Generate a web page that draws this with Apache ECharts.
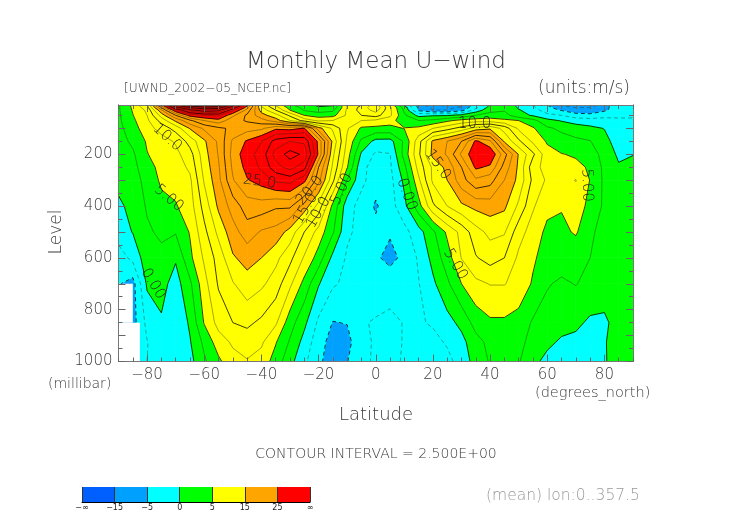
<!DOCTYPE html>
<html><head><meta charset="utf-8">
<style>html,body{margin:0;padding:0;background:#fff}#c{width:752px;height:532px}</style>
<script src="https://cdn.jsdelivr.net/npm/echarts@6/dist/echarts.min.js"></script>
</head><body><div id="c"></div>
<script>
// latitude of every column, -90..90 by 5
const lats=[-90,-85,-80,-75,-70,-65,-60,-55,-50,-45,-40,-35,-30,-25,-20,-15,-10,-5,0,5,10,15,20,25,30,35,40,45,50,55,60,65,70,75,80,85,90];
const levels=[10,20,30,50,70,100,150,200,250,300,400,500,600,700,850,925,1000];
// zonal wind (m/s), one array per pressure level
const u10=[2.2,5.6,10,24,40,48,52,50,38,26,12,7,2.8,1.5,-.8,-.3,8,10,14,7,-1,-6,-10,-11,-8.5,-4,.1,1.5,-.6,-2.5,-5,-8,-10,-10,-5.5,-4,-3.6];
const u20=[2.2,5.4,9,20,33,40,43,42,32,23.5,13,8.5,4,1.8,.5,.8,7.5,11,14.5,8,1.5,-5.5,-8,-8,-7,-3,1,2,-.3,-2,-4.5,-6,-7.5,-7.5,-5.5,-4,-3.5];
const u30=[2.2,5.2,8,17,27,34,37,36,28,21.5,14,10,5,2.3,1.5,2,8,11,13.5,8,2,-5.5,-7.5,-7.5,-6,-1.5,1.7,2.3,.2,-1.2,-4,-5.2,-6.5,-6.8,-5.5,-3.6,-3.3];
const u50=[2.1,4.9,7.5,13.5,20,26,27.5,28,23,19.5,16,13.5,9.5,5,3.8,4.2,8,10,11,8,3,-.8,-.3,-.2,.8,2.5,3.5,3.4,1,-.3,-1.7,-2.5,-4,-4.2,-3,-3,-3];
const u70=[2,4.5,7,11,15.5,19.5,22.5,24,21,19.7,18.5,16.2,12.5,9,7,7.5,8.5,7.5,7,6,3.5,2.5,3,4.5,5.8,6.3,6.3,5.5,5,3.3,.7,-.2,-.9,-1.4,-1.9,-2,-2];
const u100=[1.8,3.9,6.5,8.5,11,15.2,18,19.5,20.5,21.5,22,24.5,24,25.2,16,12,7.8,4.6,4.3,4.3,5.1,5.6,7.5,9,11,13.5,14.5,11.5,7,5.3,2.9,2,1,.6,-.1,-1.7,-1.7];
const u150=[1.5,3,5.3,6.4,7.8,11,14.6,18,23,25.3,27.4,31,32.5,32,24.2,14.3,7,2,-.8,-.9,3,9,15.5,17.5,20,25.5,23,14.6,10.5,7,4.7,3.5,3.1,2.6,.9,-1.3,-1.2];
const u200=[1.2,2.1,4.9,6,6.8,9,14,17.7,23.5,26.5,28.5,33.5,36,34.5,24.5,13,6.2,-.4,-2.9,-2.6,3.5,9.5,15.8,17.8,23,27,27.3,21,14.8,10.5,5.9,5.1,4.7,3.6,1.7,-.5,-.1];
const u250=[.9,1.7,4.1,5.7,6.2,8,13.5,17.2,23,25.8,28,31.5,33.5,31,20,12,5.2,-2,-3.3,-2.9,1.8,8.5,13,15.8,20,25.5,24.5,19,14.5,8.5,6.5,6,5.6,4.7,1.9,.3,.9];
const u300=[.6,1.2,3.5,5.4,5.9,7,12.8,16.8,22.3,24.8,26.1,28,28.5,25.8,18.4,10.6,2.4,-1.8,-4,-3.3,.6,7,13,15,19,22,21,17.5,14.3,9.4,7.1,6.6,7.6,4.9,2,.8,.6];
const u400=[-.4,.6,2.8,4.3,4.8,6.3,11,15.5,18.6,21.3,21.4,20.4,20.5,16.5,11.5,4.3,-1.4,-3.5,-5.3,-3.6,-.7,4,9.5,12.5,14.5,15.7,16.2,15.5,12,7.8,5.7,5.2,5.9,4.5,2,1.3,1.1];
const u500=[-1.2,.1,2.1,3,2.7,5.2,9.3,13.2,16.5,18.8,17.2,16.6,14,10,6.5,2.8,-2.1,-3.2,-4.3,-4.7,-3.3,-1,2,5.5,8.3,11.5,13.2,12.8,8.5,6.4,4.4,4.4,5.3,3,1.5,1.5,1.2];
const u600=[-3.8,-1.8,1.4,1.8,.3,4.4,7.9,11,14.7,15.9,15,13.2,10.7,7.2,3.9,-.7,-2.8,-3.5,-4.6,-5.8,-4.3,-2.2,.8,3.8,7.6,9.8,11,10,7,5.4,3.8,3.6,3.2,2.5,2,1.8,1.5];
const u700=[-4.8,-6,.4,.9,-1.1,2,6.6,10.3,12.3,14,13,11.3,8,4.2,.2,-2.2,-3,-3.3,-3.7,-3.4,-3.3,-2.6,-.5,2,5,6.9,7.6,7.6,6.7,4.7,2.7,2.1,2.6,1.8,1.7,1.6,1.4];
const u850=[-5.5,-6,-1.8,-.3,-2.2,.4,5.2,8.4,10,10.5,9.5,7.9,3.6,.6,-3,-5.1,-4.9,-2.7,-2.3,-2,-2.6,-2.7,-2.3,-.9,.7,3.5,4.6,4.6,4,2.2,1.5,1,.5,-.4,-.6,1.3,1.2];
const u925=[-5,-4,-2.6,-1,-2.4,-.2,3.1,6.3,7.9,8.8,7.9,5.2,2.2,-.9,-4,-6,-5.8,-3.2,-2.2,-2,-2.6,-3,-3,-2.3,-.8,1.6,3.2,3.6,3,1.9,.6,-.4,-.6,-.7,-.2,1.2,1.3];
const u1000=[-4,-3.5,-2.5,-.6,-1.8,-.8,2.1,4.5,6.6,7.3,6.5,3.9,.8,-2,-4.5,-6.3,-5.1,-3,-2.2,-2,-2.7,-3.2,-3.2,-3,-1.8,1.2,2.7,3.3,2.7,.7,-.8,-1,-1.2,-1,-.2,1,1.5];
const windRows=[u10,u20,u30,u50,u70,u100,u150,u200,u250,u300,u400,u500,u600,u700,u850,u925,u1000];
// filled colour bands
const bandEdges=[-1e9,-15,-5,0,5,15,25,1e9];
const bandColors=['#0060ff','#00a0ff','#00ffff','#00ff00','#ffff00','#ffa500','#ff0000'];
const barLabels=['−∞','−15','−5','0','5','15','25','∞'];
// contour lines every 2.5
const contourLevels=[-12.5,-10,-7.5,-5,-2.5,0,2.5,5,7.5,10,12.5,15,17.5,20,22.5,25,27.5,30,32.5,35,37.5,40,42.5,45,47.5,50];
// no-data boxes: lat from, lat to, level from, level to
const missingBoxes=[[-90,-85,700,850],[-90,-82.5,850,1000]];
// contour labels: text, latitude, level, rotation in degrees
const lineLabels=[['10.0',-72.9,136,-42],['5.00',-72.4,370,-40],['25.0',-40.6,306,-8],['20.0',-23,340,50],['15.0',-24.5,410,60],['10.0',-20,425,60],['5.00',-11.9,335,65],['0.00',-77.9,700,-58],['10.0',34.6,85,0],['15.0',21.7,240,-55],['0.00',10.8,355,-70],['5.00',73.9,320,-88],['5.00',27.8,625,-60]];
const latTicks=[-80,-60,-40,-20,0,20,40,60,80];
const latMinorTicks=lats;
const levelTicks=[200,400,600,800,1000];
const levelMajorTicks=[100,200,300,400,500,600,700,800,900,1000];
const levelMinorTicks=[50,150,250,350,450,550,650,750,850,950];

windRows.forEach(r=>{if(r.length!==lats.length)throw new Error('row '+r.length)});

const F='"DejaVu Sans"';
const TC='#3a3a3a';

function clip(poly,t,above){
  const out=[];
  for(let i=0;i<poly.length;i++){
    const a=poly[i],b=poly[(i+1)%poly.length];
    const ia=above?a[2]>=t:a[2]<=t, ib=above?b[2]>=t:b[2]<=t;
    if(ia)out.push(a);
    if(ia!==ib){const k=(t-a[2])/(b[2]-a[2]);out.push([a[0]+k*(b[0]-a[0]),a[1]+k*(b[1]-a[1]),t]);}
  }
  return out;
}
const cells=[];
for(let j=0;j<levels.length-1;j++)for(let i=0;i<lats.length-1;i++)cells.push([i,j]);
function corners(i,j){return [[lats[i],levels[j],windRows[j][i]],[lats[i+1],levels[j],windRows[j][i+1]],[lats[i+1],levels[j+1],windRows[j+1][i+1]],[lats[i],levels[j+1],windRows[j+1][i]]];}

function contour(t){
  const segs=[];
  cells.forEach(([i,j])=>{
    const c=corners(i,j),pts=[];
    for(let k=0;k<4;k++){
      const a=c[k],b=c[(k+1)%4];
      const va=a[2]===t?t+1e-6:a[2],vb=b[2]===t?t+1e-6:b[2];
      if((va-t)*(vb-t)<0){const q=(t-va)/(vb-va);pts.push([a[0]+q*(b[0]-a[0]),a[1]+q*(b[1]-a[1])]);}
    }
    if(pts.length>=2)segs.push([pts[0],pts[1]]);
    if(pts.length===4)segs.push([pts[2],pts[3]]);
  });
  const key=p=>p[0].toFixed(5)+','+p[1].toFixed(5);
  const used=new Array(segs.length).fill(false),map={};
  segs.forEach((s,n)=>{[0,1].forEach(e=>{(map[key(s[e])]=map[key(s[e])]||[]).push(n)})});
  const lines=[];
  segs.forEach((s,n)=>{
    if(used[n])return;used[n]=true;
    const line=[s[0],s[1]];
    for(const atEnd of [true,false]){
      for(;;){
        const p=atEnd?line[line.length-1]:line[0];
        const nx=(map[key(p)]||[]).find(m=>!used[m]);
        if(nx===undefined)break;
        used[nx]=true;
        const o=key(segs[nx][0])===key(p)?segs[nx][1]:segs[nx][0];
        if(atEnd)line.push(o);else line.unshift(o);
      }
    }
    lines.push(line);
  });
  return lines;
}
const polylines=[];
contourLevels.forEach(t=>contour(t).forEach(l=>polylines.push({t,l})));

const txt=(text,x,y,size,o={})=>({type:'text',x,y,rotation:o.rot||0,silent:true,style:{text,fontFamily:F,fontSize:size,fontWeight:o.w||200,fill:o.fill||TC,textAlign:o.align||'left',textVerticalAlign:'middle'}});

const axisX=(extra)=>Object.assign({type:'value',gridIndex:0,min:-90,max:90,splitLine:{show:false},z:20},extra);
const axisY=(extra)=>Object.assign({type:'value',gridIndex:0,min:10,max:1000,inverse:true,splitLine:{show:false},z:20},extra);
const frame={show:true,onZero:false,lineStyle:{color:'#777',width:1}};
const tickS={color:'#666',width:1};
const noLabel={show:false};
const lab={show:true,fontFamily:F,fontSize:15,fontWeight:200,color:TC};

const chart=echarts.init(document.getElementById('c'),null,{renderer:'canvas'});
chart.setOption({
  animation:false,
  backgroundColor:'#fff',
  grid:[{left:118.5,top:105,width:514.5,height:256.5},{left:82,top:487,width:228,height:15}],
  xAxis:[
    axisX({position:'bottom',axisLine:frame,axisTick:{show:true,inside:true,length:7,lineStyle:tickS,customValues:latTicks},
      axisLabel:Object.assign({},lab,{margin:6,customValues:latTicks,formatter:v=>String(v).replace('-','−')})}),
    axisX({position:'bottom',axisLine:frame,axisTick:{show:true,inside:true,length:4,lineStyle:tickS,customValues:latMinorTicks},axisLabel:noLabel}),
    axisX({position:'top',axisLine:frame,axisTick:{show:true,inside:true,length:7,lineStyle:tickS,customValues:latTicks},axisLabel:noLabel}),
    axisX({position:'top',axisLine:frame,axisTick:{show:true,inside:true,length:4,lineStyle:tickS,customValues:latMinorTicks},axisLabel:noLabel}),
    {type:'value',gridIndex:1,min:0,max:7,interval:1,position:'bottom',splitLine:{show:false},z:20,
      axisLine:{show:true,lineStyle:{color:'#000',width:1}},axisTick:{show:true,inside:true,length:15,lineStyle:{color:'#333',width:1}},
      axisLabel:{show:true,margin:2,fontFamily:F,fontSize:8,color:'#222',formatter:v=>barLabels[v]}}
  ],
  yAxis:[
    axisY({position:'left',axisLine:frame,axisTick:{show:true,inside:true,length:7,lineStyle:tickS,customValues:levelMajorTicks},
      axisLabel:Object.assign({},lab,{margin:6,customValues:levelTicks,formatter:v=>String(v)})}),
    axisY({position:'left',axisLine:frame,axisTick:{show:true,inside:true,length:4,lineStyle:tickS,customValues:levelMinorTicks},axisLabel:noLabel}),
    axisY({position:'right',axisLine:frame,axisTick:{show:true,inside:true,length:7,lineStyle:tickS,customValues:levelMajorTicks},axisLabel:noLabel}),
    axisY({position:'right',axisLine:frame,axisTick:{show:true,inside:true,length:4,lineStyle:tickS,customValues:levelMinorTicks},axisLabel:noLabel}),
    {type:'value',gridIndex:1,min:0,max:1,show:false}
  ],
  series:[
    {type:'custom',xAxisIndex:0,yAxisIndex:0,silent:true,z:2,clip:true,data:cells,
      renderItem:(p,api)=>{
        const c=corners(api.value(0),api.value(1)),children=[];
        bandColors.forEach((col,b)=>{
          let poly=clip(c,bandEdges[b],true);
          if(poly.length>2)poly=clip(poly,bandEdges[b+1],false);
          if(poly.length>2)children.push({type:'polygon',shape:{points:poly.map(q=>api.coord([q[0],q[1]]))},style:{fill:col,stroke:col,lineWidth:.7}});
        });
        return {type:'group',children};
      },encode:{x:0,y:1}},
    {type:'custom',xAxisIndex:0,yAxisIndex:0,silent:true,z:3,clip:true,data:polylines.map((_,i)=>[i]),
      renderItem:(p,api)=>{
        const o=polylines[api.value(0)],major=Math.abs(o.t%5)<1e-6;
        return {type:'polyline',shape:{points:o.l.map(q=>api.coord(q))},
          style:{fill:null,stroke:major?'rgba(0,0,0,.85)':'rgba(40,40,0,.6)',lineWidth:major?.9:.7,lineDash:o.t<0?[4,3]:null,lineJoin:'round'}};
      },encode:{x:0}},
    {type:'custom',xAxisIndex:0,yAxisIndex:0,silent:true,z:4,clip:true,data:missingBoxes,
      renderItem:(p,api)=>{
        const a=api.coord([api.value(0),api.value(2)]),b=api.coord([api.value(1),api.value(3)]);
        return {type:'rect',shape:{x:a[0],y:a[1],width:b[0]-a[0],height:b[1]-a[1]},style:{fill:'#fff'}};
      },encode:{x:0,y:2}},
    {type:'custom',xAxisIndex:0,yAxisIndex:0,silent:true,z:5,clip:false,data:lineLabels.map((l,i)=>[i]),
      renderItem:(p,api)=>{
        const l=lineLabels[api.value(0)],q=api.coord([l[1],l[2]]);
        return {type:'text',x:q[0],y:q[1],rotation:l[3]*Math.PI/180,style:{text:l[0],fontFamily:F,fontSize:15,fontWeight:200,fill:'#222',textAlign:'center',textVerticalAlign:'middle'}};
      },encode:{x:0}},
    {type:'custom',xAxisIndex:4,yAxisIndex:4,silent:true,z:2,data:bandColors.map((c,i)=>[i]),
      renderItem:(p,api)=>{
        const i=api.value(0),a=api.coord([i,1]),b=api.coord([i+1,0]);
        return {type:'rect',shape:{x:a[0],y:a[1],width:b[0]-a[0],height:b[1]-a[1]},style:{fill:bandColors[i]}};
      },encode:{x:0}}
  ],
  graphic:[
    txt('Monthly Mean U−wind',376,62,23,{align:'center'}),
    txt('[UWND_2002−05_NCEP.nc]',124,89,12.2),
    txt('(units:m/s)',630,89,17,{align:'right'}),
    txt('Level',57,232,17,{align:'center',rot:Math.PI/2}),
    txt('(millibar)',48,384,14),
    txt('Latitude',376,415,18,{align:'center'}),
    txt('(degrees_north)',535,393,14.5),
    txt('CONTOUR INTERVAL = 2.500E+00',376,454,14,{align:'center'}),
    txt('(mean) lon:0..357.5',486,496,15.5,{fill:'#999'})
  ]
});
</script></body></html>
